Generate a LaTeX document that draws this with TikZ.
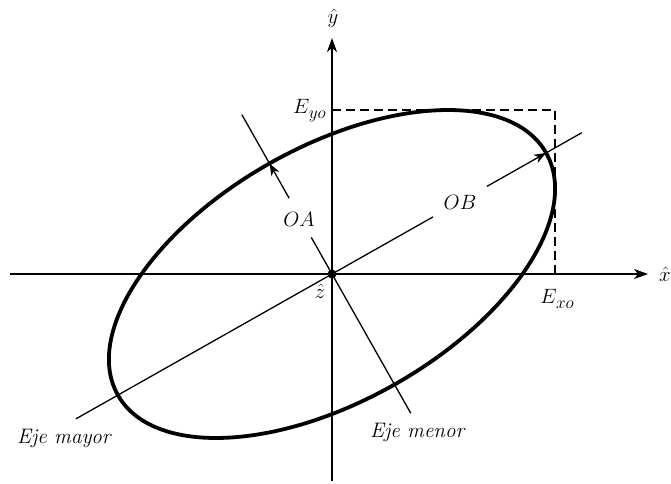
\documentclass[tikz,border=0pt]{standalone}
\usetikzlibrary{arrows.meta,calc}
\newcommand{\subsc}[2]{$#1$\kern-0.5pt\raisebox{-5pt}{\fontsize{18}{18}\selectfont$#2$}}
\begin{document}
\begin{tikzpicture}[x=1pt,y=-1pt,
  axisarrow/.style={line width=1.6pt, -{Stealth[length=14pt,width=10pt,inset=4pt]}},
  thinline/.style={line width=1.3pt},
  ellline/.style={line width=3.8pt},
  dimarrow/.style={line width=1.3pt, -{Stealth[length=12pt,width=9pt,inset=3.5pt]}},
  lab/.style={font=\fontsize{20}{24}\selectfont, inner sep=1pt},
  txtlab/.style={font=\fontsize{21}{25}\selectfont\itshape, inner sep=1pt},
  dashbox/.style={line width=1.5pt, dash pattern=on 9pt off 5pt}]
\useasboundingbox (0,0) rectangle (671,483);
% key points
\coordinate (O) at (332,274);
\coordinate (xs) at (10,274);
\coordinate (xe) at (648,274);
\coordinate (ys) at (332,481);
\coordinate (ye) at (332,38);
\coordinate (M1) at (76,418.8);
\coordinate (M2) at (581.8,132.7);
\coordinate (N1) at (241.9,114.7);
\coordinate (N2) at (410.8,413.3);
\coordinate (A) at (269.5,163.5);
\coordinate (B) at (546.1,152.9);
\coordinate (G1) at (289.2,198.3);
\coordinate (G2) at (311.3,237.4);
\coordinate (G3) at (433.0,216.9);
\coordinate (G4) at (486.9,186.4);
\coordinate (Dy) at (332,110);
\coordinate (Dc) at (555,110);
\coordinate (Dx) at (555,274);
% dashed box
\draw[dashbox] (Dy) -- (Dc) -- (Dx);
% axes
\draw[axisarrow] (xs) -- (xe);
\draw[axisarrow] (ys) -- (ye);
% major axis (Eje mayor)
\draw[thinline] (M1) -- (G3);
\draw[dimarrow] (G4) -- (B);
\draw[thinline] (B) -- (M2);
% minor axis (Eje menor)
\draw[thinline] (N2) -- (G2);
\draw[dimarrow] (G1) -- (A);
\draw[thinline] (A) -- (N1);
% ellipse
\draw[ellline, rotate around={29.5:(O)}] (O) ellipse [x radius=246, y radius=127];
% origin dot
\fill (O) circle (4.5);
% labels
\node[lab] (ly) at (333,18) {$\hat{y}$};
\node[lab] (lx) at (665,274) {$\hat{x}$};
\node[lab] (lz) at (320,291) {$\hat{z}$};
\node[lab, anchor=base east] (leyo) at (327,113) {\subsc{E}{yo}};
\node[lab, anchor=base] (lexo) at (557,303) {\subsc{E}{xo}};
\node[lab] (loa) at (299,219) {$OA$};
\node[lab] (lob) at (460,202) {$OB$};
\node[txtlab, anchor=base west] (lmay) at (16,443) {Eje mayor};
\node[txtlab, anchor=base west] (lmen) at (369,437) {Eje menor};
\end{tikzpicture}
\end{document}
